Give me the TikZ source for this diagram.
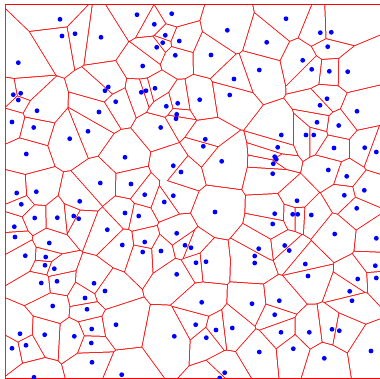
\documentclass[tikz,border=0pt]{standalone}
\def\ptlist{\pt{60}{19.3}\pt{62}{36}\pt{75}{33.7}\pt{101}{37.3}\pt{18.3}{62.7}\pt{108.3}{87}\pt{105}{90.7}\pt{115.7}{101.7}\pt{13.3}{94.7}\pt{20.7}{93.3}%
\pt{18.3}{100}\pt{37}{110.7}\pt{99}{112}\pt{12}{122}\pt{33.7}{127.5}\pt{137}{14.7}\pt{171.7}{13.7}\pt{154.3}{24.3}\pt{165.3}{35.3}\pt{162.7}{42.7}%
\pt{179.3}{41}\pt{156.7}{47.3}\pt{175.3}{55.3}\pt{227.3}{30.3}\pt{211}{55}\pt{142.7}{66}\pt{234}{79}\pt{229.7}{95}\pt{155}{88.3}\pt{146}{90.7}%
\pt{141.3}{92.3}\pt{199.7}{99.7}\pt{177.7}{103.3}\pt{166.3}{106.3}\pt{176.7}{114.3}\pt{176}{118.7}\pt{160.7}{127.5}\pt{286}{18.7}\pt{320.3}{32.7}\pt{331.3}{32.3}%
\pt{266.7}{42.3}\pt{327.7}{46.7}\pt{302.7}{60.3}\pt{311.7}{69.3}\pt{329.3}{71.3}\pt{347.7}{71.7}\pt{259.3}{70}\pt{327}{98.7}\pt{320}{105.3}\pt{357}{111.3}%
\pt{317}{122.3}\pt{338.7}{125.5}\pt{88}{131.3}\pt{69.7}{138.7}\pt{26.3}{154}\pt{125}{157.3}\pt{100.3}{183}\pt{16.7}{193}\pt{36.3}{191.7}\pt{21.3}{204.3}%
\pt{79.7}{201.3}\pt{125}{213}\pt{34.7}{218}\pt{57.3}{217.7}\pt{73.7}{216}\pt{78.7}{218.7}\pt{14.3}{226.7}\pt{15}{237}\pt{107.3}{229.7}\pt{49.3}{243}%
\pt{122.3}{245}\pt{205.3}{139.3}\pt{203.3}{146.3}\pt{221.7}{161.3}\pt{173.3}{165.7}\pt{181}{172}\pt{131}{184}\pt{144.7}{194.7}\pt{173.3}{195.7}\pt{164.3}{202}%
\pt{215}{212}\pt{138.7}{216}\pt{176.7}{233.3}\pt{144.7}{242}\pt{185}{245.3}\pt{191}{247.7}\pt{142.7}{252}\pt{161}{251}\pt{281.3}{135}\pt{306}{135}%
\pt{313.7}{135}\pt{277.7}{147.3}\pt{274.7}{156.7}\pt{276.3}{159.3}\pt{273.3}{163.7}\pt{272.7}{173.7}\pt{334}{148}\pt{364.7}{147.7}\pt{376.3}{152}\pt{328.3}{170}%
\pt{346.7}{176.3}\pt{364.3}{190.3}\pt{297}{200.7}\pt{344.3}{195.3}\pt{356.7}{208.3}\pt{274.7}{213.7}\pt{292.7}{214.3}\pt{297.7}{214.3}\pt{311.3}{215}\pt{272.7}{224}%
\pt{334.7}{234}\pt{376.3}{238.3}\pt{258.7}{248.7}\pt{284.7}{245.5}\pt{289.2}{250.5}\pt{25.3}{255.7}\pt{45.7}{257}\pt{45}{265.3}\pt{54.3}{268.7}\pt{41.3}{283}%
\pt{57}{281.3}\pt{94}{283.3}\pt{105}{291}\pt{85}{298}\pt{52.7}{306}\pt{87}{309.3}\pt{116}{324.7}\pt{91.7}{329}\pt{20}{333.7}\pt{44.7}{334.7}%
\pt{74.3}{336.3}\pt{26}{345.3}\pt{12}{348.3}\pt{91.3}{343}\pt{92}{362.3}\pt{34}{377.3}\pt{121.7}{374.7}\pt{196}{262.7}\pt{206}{261.7}\pt{254.7}{256}%
\pt{254.7}{263}\pt{176.7}{274.3}\pt{201.7}{302.3}\pt{252}{303.7}\pt{195.7}{324.7}\pt{216}{330}\pt{232.3}{328}\pt{174.3}{336.3}\pt{206.3}{337.7}\pt{224.7}{372.7}%
\pt{219.7}{378}\pt{305.3}{264}\pt{375.3}{265.7}\pt{308}{276}\pt{357.7}{279}\pt{376.3}{278}\pt{349.7}{291.3}\pt{352}{300.7}\pt{279.3}{300.7}\pt{274.7}{314.7}%
\pt{332}{329.3}\pt{339.3}{330.7}\pt{281}{332.3}\pt{309.3}{332.3}\pt{259.3}{352}\pt{293.3}{348.7}\pt{371}{351}\pt{324.3}{358.3}}
\tikzset{cellfill/.style={fill=white}, seed/.style={fill=blue}, edgefill/.style={fill=red}}
\makeatletter
\newdimen\dxA \newdimen\dyA \newdimen\mxA \newdimen\myA \newdimen\uxA \newdimen\uyA \newdimen\tA
\def\gap{0.5}
\def\innerpt#1#2{%
  \dxA=\cxi pt\advance\dxA by -#1pt\relax
  \dyA=#2pt\advance\dyA by -\cyi pt\relax
  \ifdim\dxA<110pt\ifdim\dxA>-110pt\ifdim\dyA<110pt\ifdim\dyA>-110pt
    \tA=\dimexpr\dxA*\numexpr\dxA/65536\relax/4+\dyA*\numexpr\dyA/65536\relax/4\relax
    \ifdim\tA<3025pt\ifdim\tA>0.1pt
      \pgfpointnormalised{\pgfqpoint{\dxA}{\dyA}}\uxA=\pgf@x\uyA=\pgf@y
      \mxA=\dimexpr(\cxi pt+#1pt)/2\relax\advance\mxA by \gap\uxA
      \myA=\dimexpr(-\cyi pt-#2pt)/2\relax\advance\myA by \gap\uyA
      \pgfpathmoveto{\pgfqpoint{\dimexpr\mxA-600\uyA\relax}{\dimexpr\myA+600\uxA\relax}}%
      \pgfpathlineto{\pgfqpoint{\dimexpr\mxA+600\uyA\relax}{\dimexpr\myA-600\uxA\relax}}%
      \pgfpathlineto{\pgfqpoint{\dimexpr\mxA+600\uyA+600\uxA\relax}{\dimexpr\myA-600\uxA+600\uyA\relax}}%
      \pgfpathlineto{\pgfqpoint{\dimexpr\mxA-600\uyA+600\uxA\relax}{\dimexpr\myA+600\uxA+600\uyA\relax}}%
      \pgfpathclose\pgfusepath{clip}%
    \fi\fi
  \fi\fi\fi\fi}
\def\outerpt#1#2{\def\cxi{#1}\def\cyi{#2}%
  \begin{pgfscope}\let\pt\innerpt\ptlist
  \fill[cellfill] (0,0) rectangle (400,400);
  \end{pgfscope}}
\def\dotpt#1#2{\fill[seed] (#1,#2) circle (2.4);}
\makeatother
\begin{document}
\begin{tikzpicture}[x=1pt,y=-1pt]
\useasboundingbox (0,0) rectangle (379,379);
\fill[white] (0,0) rectangle (379,379);
\fill[edgefill] (4.8,4.2) rectangle (381,378.8);
\begin{pgfinterruptboundingbox}
\begin{scope}
\clip (5.8,5.2) rectangle (381,377.8);
\let\pt\outerpt\ptlist
\end{scope}
\end{pgfinterruptboundingbox}
\let\pt\dotpt\ptlist
\end{tikzpicture}
\end{document}
